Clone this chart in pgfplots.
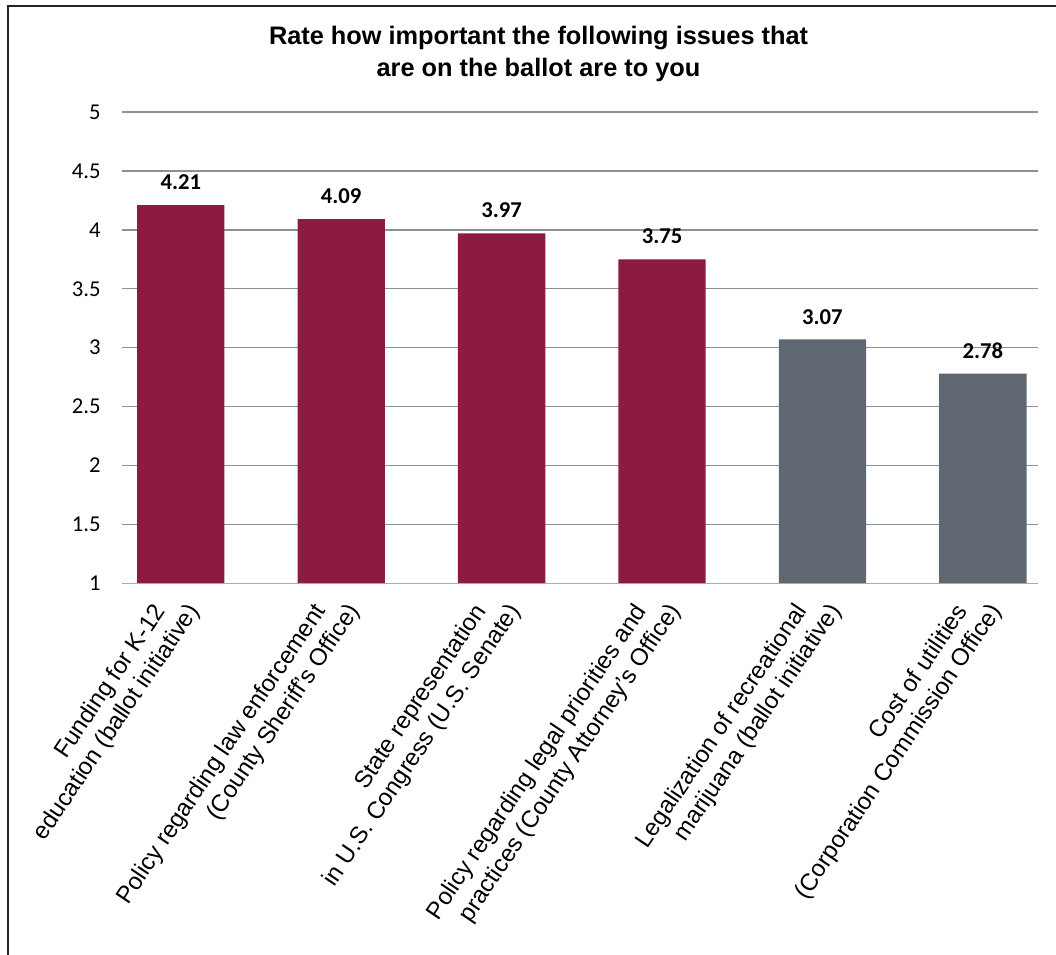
\documentclass[border=0pt]{standalone}
\usepackage{fontspec}
\setmainfont{Carlito}
\newfontfamily\arialfont{Liberation Sans}
\usepackage{pgfplots}
\pgfplotsset{compat=1.18}

\definecolor{barred}{RGB}{139,28,64}
\definecolor{bargray}{RGB}{95,104,114}
\definecolor{gridgray}{RGB}{140,145,151}
\definecolor{basegray}{RGB}{168,172,177}
\definecolor{framegray}{RGB}{35,35,35}

% first line of a category label ends a little short of the second
\newcommand{\lineone}[1]{#1\hspace*{14.2pt}}

\begin{document}
\begin{tikzpicture}
\useasboundingbox (0,0) rectangle (792pt,715.5pt);
% outer chart frame
\draw[framegray, line width=1.9pt] (6pt,-5pt) -- (6pt,711pt) -- (800pt,711pt);
% title
\node[font=\arialfont\bfseries\fontsize{19}{23}\selectfont, anchor=base, inner sep=0pt]
  at (403.9pt,682pt) {Rate how important the following issues that};
\node[font=\arialfont\bfseries\fontsize{19}{23}\selectfont, anchor=base, inner sep=0pt]
  at (403.9pt,658pt) {are on the ballot are to you};

\begin{axis}[
  at={(91.7pt,278pt)}, anchor=south west,
  scale only axis, width=686.6pt, height=353.5pt,
  xmin=-0.3647, xmax=5.342, ymin=1, ymax=5,
  /pgf/number format/assume math mode=true,
  axis line style={draw=none},
  major tick length=0pt,
  ytick={1,1.5,2,2.5,3,3.5,4,4.5,5},
  ymajorgrids,
  major grid style={color=gridgray, line width=1pt},
  yticklabel style={font=\fontsize{17}{20}\selectfont, anchor=east, inner sep=0pt, xshift=-16pt},
  xtick={0,1,2,3,4,5},
  xticklabels={
    {\lineone{Funding for K-12}\\education (ballot initiative)},
    {\lineone{Policy regarding law enforcement}\\(County Sheriff’s Office)},
    {\lineone{State representation}\\in U.S. Congress (U.S. Senate)},
    {\lineone{Policy regarding legal priorities and}\\practices (County Attorney’s Office)},
    {\lineone{Legalization of recreational}\\marijuana (ballot initiative)},
    {\lineone{Cost of utilities}\\(Corporation Commission Office)}},
  xticklabel style={font=\arialfont\fontsize{18}{21}\selectfont, align=right,
    inner sep=0pt, xshift=17.7pt, yshift=-23pt, rotate=56, anchor=south east},
  nodes near coords={\pgfmathprintnumber[fixed,fixed zerofill,precision=2]{\pgfplotspointmeta}},
  nodes near coords style={font=\bfseries\fontsize{17}{20}\selectfont, text=black,
    anchor=south, inner sep=0pt, yshift=11.25pt},
]
\addplot[ybar, bar width=65.5pt, bar shift=0pt, fill=barred, draw=none]
  coordinates {(0,4.21) (1,4.09) (2,3.97) (3,3.75)};
\addplot[ybar, bar width=65.5pt, bar shift=0pt, fill=bargray, draw=none]
  coordinates {(4,3.07) (5,2.78)};
% category axis baseline
\draw[basegray, line width=1.2pt] (rel axis cs:0,0) -- (rel axis cs:1,0);
\end{axis}
\end{tikzpicture}
\end{document}
